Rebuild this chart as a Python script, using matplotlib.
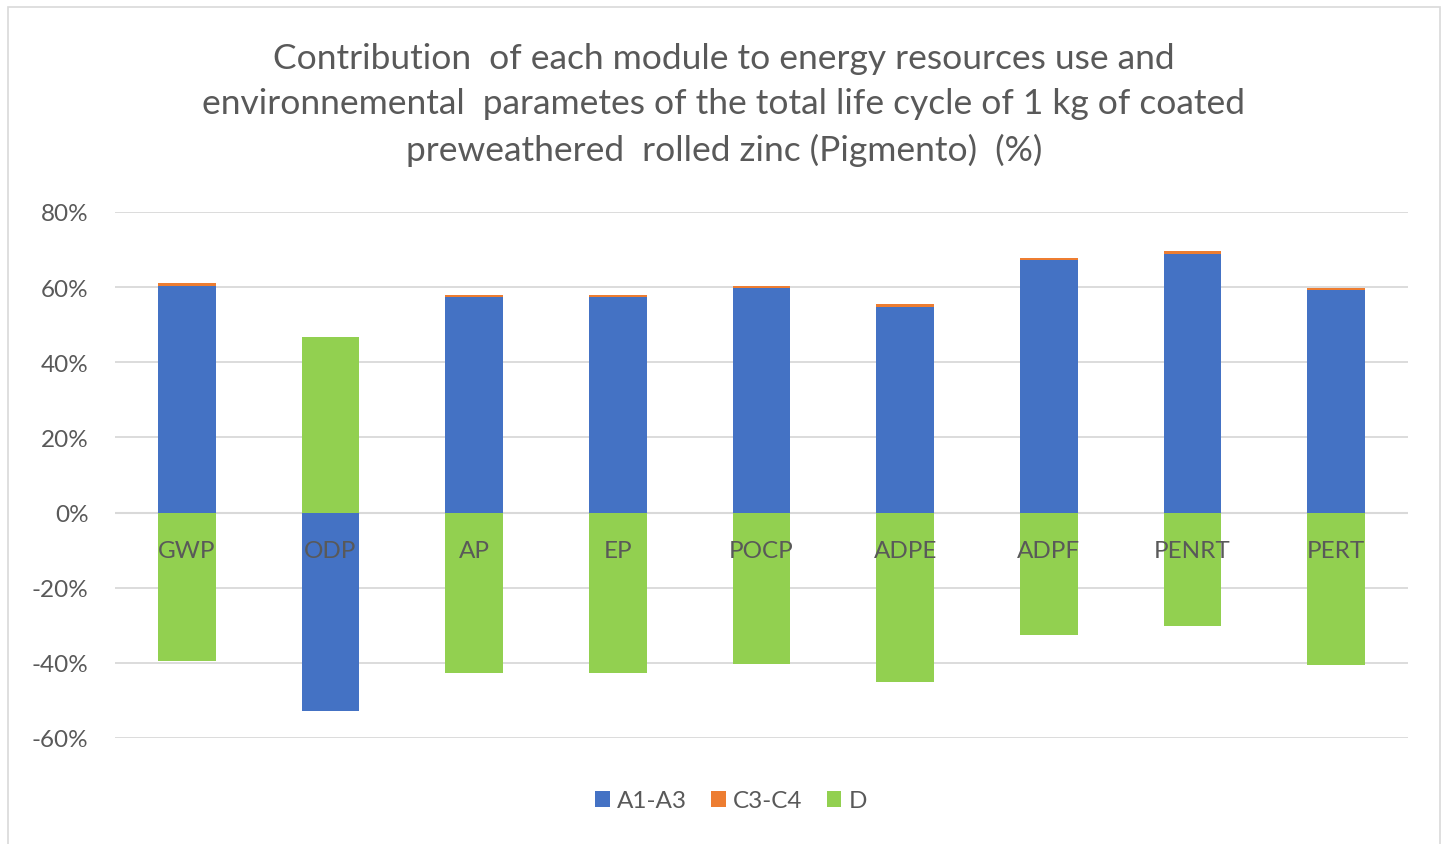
import matplotlib
matplotlib.use("Agg")
import matplotlib.pyplot as plt
from matplotlib.patches import Rectangle
import numpy as np

categories = ["GWP", "ODP", "AP", "EP", "POCP", "ADPE", "ADPF", "PENRT", "PERT"]
a1_a3 = [60.4, -52.9, 57.4, 57.4, 59.8, 54.8, 67.2, 68.9, 59.3]
c3_c4 = [0.7, 0.0, 0.6, 0.6, 0.6, 0.6, 0.6, 0.6, 0.6]
d_mod = [-39.4, 46.8, -42.6, -42.6, -40.2, -45.2, -32.7, -30.3, -40.7]
series_names = ["A1-A3", "C3-C4", "D"]
yticks = [80, 60, 40, 20, 0, -20, -40, -60]
title = ("Contribution  of each module to energy resources use and\n"
         "environnemental  parametes of the total life cycle of 1 kg of coated\n"
         "preweathered  rolled zinc (Pigmento)  (%)")

colors = ["#4472C4", "#ED7D31", "#92D050"]
plt.rcParams['font.family'] = ['Lato', 'DejaVu Sans']
txt = "#595959"

fig = plt.figure(figsize=(14.48, 8.45), dpi=100)
fig.patches.append(Rectangle((8/1448, -0.01), (1440-8)/1448, 1 - 8/845 + 0.01,
                             transform=fig.transFigure, fill=False,
                             edgecolor="#D9D9D9", linewidth=1.2))
ax = fig.add_axes([115/1448, 1-739/845, (1408-115)/1448, (739-213)/845])

x = np.arange(len(categories))
w = 0.4
pos_base = np.zeros(len(x))
neg_base = np.zeros(len(x))
for vals, c, name in zip([a1_a3, c3_c4, d_mod], colors, series_names):
    v = np.array(vals, dtype=float)
    bottoms = np.where(v >= 0, pos_base, neg_base)
    ax.bar(x, v, w, bottom=bottoms, color=c, label=name, zorder=3,
           edgecolor="none")
    pos_base = pos_base + np.where(v >= 0, v, 0)
    neg_base = neg_base + np.where(v < 0, v, 0)

ax.set_xlim(-0.5, len(x) - 0.5)
ax.set_ylim(-60, 80)
ax.set_yticks(yticks)
ax.set_yticklabels([f"{t}%" for t in yticks], color=txt, fontsize=17.5)
ax.tick_params(axis='y', length=0, pad=19)
ax.set_xticks([])
ax.grid(axis='y', color="#D9D9D9", linewidth=1.3, zorder=0)
for s in ax.spines.values():
    s.set_visible(False)
ax.axhline(0, color="#D9D9D9", linewidth=1.5, zorder=2)

for xi, cat in zip(x, categories):
    ax.text(xi, -10.2, cat, ha='center', va='center', color=txt, fontsize=17.5,
            zorder=5)

fig.text(724/1448, 1-105/845, title, ha='center', va='center', color=txt,
         fontsize=25.5, linespacing=1.52)

handles, labels = ax.get_legend_handles_labels()
fig.legend(handles, labels, loc='center', bbox_to_anchor=(731/1448, 1-802/845),
           ncol=3, frameon=False, fontsize=17.5, labelcolor=txt,
           handlelength=0.6, handleheight=0.6, handletextpad=0.3,
           columnspacing=1.0)

fig.savefig("out.png", dpi=100)
